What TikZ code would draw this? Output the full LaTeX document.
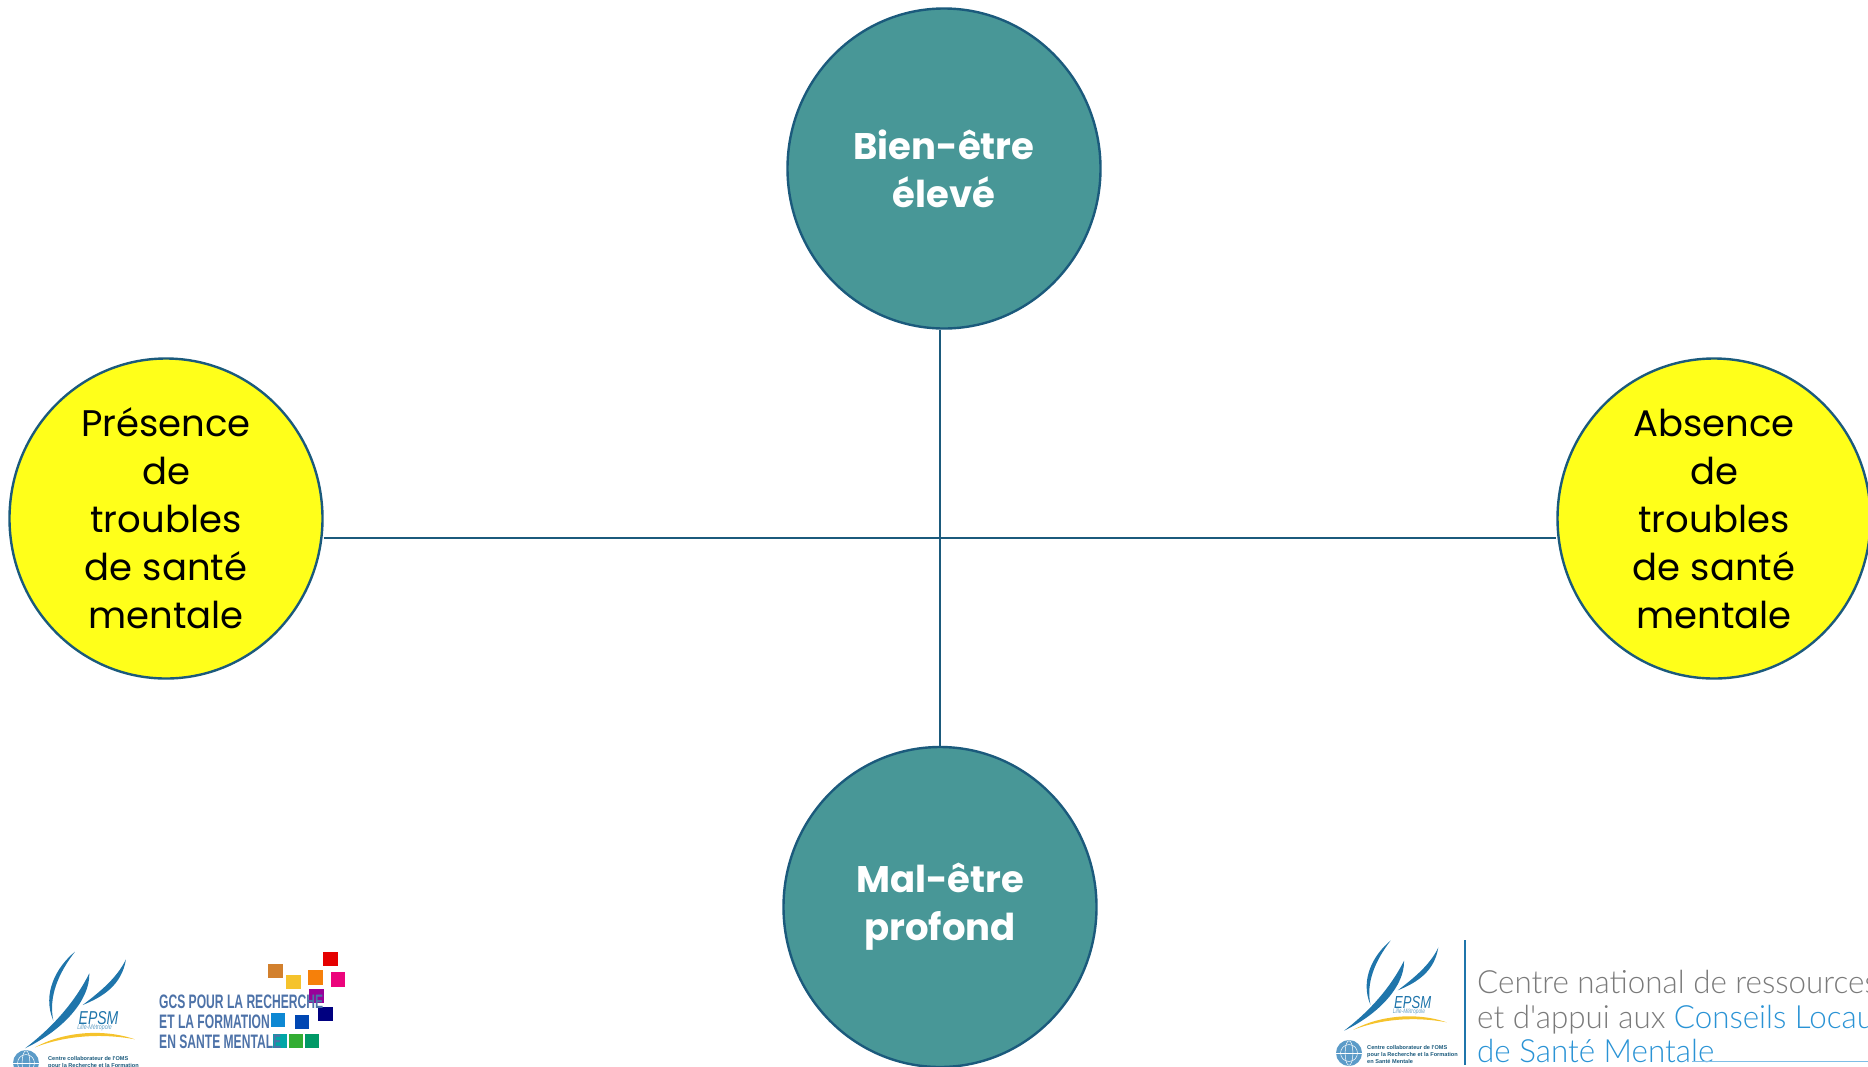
\documentclass[tikz,border=0pt]{standalone}
\usepackage{fontspec}
\usetikzlibrary{shapes.geometric,backgrounds}
\setmainfont{Poppins}
\newfontfamily\condfont[FakeStretch=0.62]{Liberation Sans}
\newfontfamily\epsmfont[FakeStretch=0.75]{Liberation Sans}
\newfontfamily\smallfont{Liberation Sans}
\newfontfamily\thinfont[FakeStretch=0.98]{Lato Light}
\definecolor{tealfill}{HTML}{489797}
\definecolor{edgeblue}{HTML}{1B5A7C}
\definecolor{yel}{HTML}{FFFF1A}
\definecolor{logoblue}{HTML}{1F75AB}
\definecolor{logoyel}{HTML}{F5C32C}
\definecolor{gcsblue}{HTML}{4D72A8}
\definecolor{greytxt}{HTML}{7A7A7A}
\definecolor{cyantxt}{HTML}{2A93D5}
\definecolor{globe}{HTML}{5B9BC8}
\tikzset{
 x=1pt,y=-1pt,
 disc/.style={ellipse,draw=edgeblue,line width=2.4pt,minimum width=313pt,minimum height=320pt,inner sep=0pt,align=center,font=\fontsize{37}{48}\selectfont},
 tealdisc/.style={disc,fill=tealfill,text=white,font=\fontsize{37}{48}\selectfont\bfseries},
 yeldisc/.style={disc,fill=yel,text=black},
 axisline/.style={draw=edgeblue,line width=2.4pt},
 gcstext/.style={anchor=base west,inner sep=0pt,text=gcsblue,font=\condfont\bfseries\fontsize{19.5}{20}\selectfont},
 bigtext/.style={anchor=base west,inner sep=0pt,font=\thinfont\fontsize{32}{34}\selectfont},
 tinytext/.style={anchor=base west,inner sep=0pt,text=edgeblue,font=\smallfont\bfseries\fontsize{5.6}{6}\selectfont},
}
\newcommand{\zsq}[5]{\fill[#1] (#2,#3) rectangle (#4,#5);}
\newcommand{\epsmlogo}[2]{%
 \fill[logoblue] (225,65) .. controls (170,110) and (125,190) .. (160,272) .. controls (145,200) and (175,130) .. (225,65) -- cycle;
 \fill[logoblue] (378,88) .. controls (365,165) and (310,200) .. (248,225) .. controls (300,185) and (350,145) .. (378,88) -- cycle;
 \fill[logoblue] (268,130) .. controls (270,210) and (190,300) .. (75,355) .. controls (160,290) and (225,215) .. (268,130) -- cycle;
 \fill[logoyel] (105,352) .. controls (190,305) and (310,295) .. (405,328) .. controls (310,310) and (200,315) .. (105,352) -- cycle;
 \node[anchor=base west,inner sep=0pt,text=logoblue,transform shape,font=\epsmfont\itshape\fontsize{56}{56}\selectfont] (#1) at (236,283) {EPSM};
 \node[anchor=base west,inner sep=0pt,text=logoblue!70,transform shape,font=\epsmfont\itshape\fontsize{21}{21}\selectfont] (#2) at (232,299) {Lille-Métropole};
}
\newcommand{\whoglobe}[4]{%
 \fill[globe] (#1,#2) circle (#3);
 \draw[white,line width=.5pt] (#1,#2) circle ({#3*.65});
 \draw[white,line width=.5pt] (#1,#2) ellipse ({#3*.3} and {#3*.95});
 \draw[white,line width=.5pt] ({#1-#3},#2) -- ({#1+#3},#2);
}
\begin{document}
\begin{tikzpicture}
\useasboundingbox (0,0) rectangle (1868,1066);
\clip (0,0) rectangle (1868,1066);
\node[tealdisc] (top) at (944,168.5) {Bien-être\\élevé};
\node[tealdisc] (bottom) at (940,907) {Mal-être\\profond};
\node[yeldisc] (left) at (166,518.5) {Présence\\de\\troubles\\de santé\\mentale};
\node[yeldisc] (right) at (1714,518.5) {Absence\\de\\troubles\\de santé\\mentale};
\coordinate (cross) at (940,538);
\begin{pgfonlayer}{background}
\draw[axisline] (cross |- top.south) -- (cross |- bottom.north);
\draw[axisline] (left.east |- cross) -- (right.west |- cross);
\end{pgfonlayer}
% left logos
\begin{scope}[shift={(0,930)},scale=.33333]
\epsmlogo{epsmA}{lilleA}
\zsq{brown!70!orange}{804}{101}{848}{145}
\zsq{logoyel}{859}{135}{903}{178}
\zsq{orange!85!brown}{924}{121}{968}{165}
\zsq{red!90!black}{970}{65}{1013}{107}
\zsq{magenta!85!red}{992}{127}{1035}{170}
\zsq{violet!80!magenta}{928}{177}{972}{220}
\zsq{blue!50!black}{954}{231}{998}{274}
\zsq{cyan!70!blue}{812}{248}{855}{291}
\zsq{blue!60!cyan!70!black}{885}{255}{928}{298}
\zsq{teal!70!cyan}{820}{312}{862}{355}
\zsq{green!60!black!80}{867}{312}{910}{355}
\zsq{teal!80!green}{914}{312}{957}{355}
\end{scope}
\node[gcstext] (gcsa) at (159,1008) {GCS POUR LA RECHERCHE};
\node[gcstext] (gcsb) at (159,1028.5) {ET LA FORMATION};
\node[gcstext] (gcsc) at (159,1048.5) {EN SANTE MENTALE};
\whoglobe{26}{1063}{13}{a}
\node[tinytext] (whoa) at (48,1060) {Centre collaborateur de l'OMS};
\node[tinytext] (whob) at (48,1067) {pour la Recherche et la Formation};
% right logos
\begin{scope}[shift={(1320.7,920.3)},scale=.311]
\epsmlogo{epsmB}{lilleB}
\end{scope}
\whoglobe{1349}{1053}{13}{b}
\node[tinytext] (whoc) at (1367,1049) {Centre collaborateur de l'OMS};
\node[tinytext] (whod) at (1367,1056) {pour la Recherche et la Formation};
\node[tinytext] (whoe) at (1367,1063) {en Santé Mentale};
\draw[logoblue,line width=2pt] (1465,940) -- (1465,1065);
\node[bigtext,text=greytxt] (cna) at (1477,993) {Centre national de ressources};
\node[bigtext,text=greytxt] (cnb) at (1477,1028) {et d'appui aux \textcolor{cyantxt}{Conseils Locaux}};
\node[bigtext,text=cyantxt] (cnc) at (1477,1062) {de Santé Mentale};
\coordinate (rulefree) at (1868,1061);
\draw[cyantxt!60,line width=.7pt] (1692,1061) -- (rulefree);
\end{tikzpicture}
\end{document}
